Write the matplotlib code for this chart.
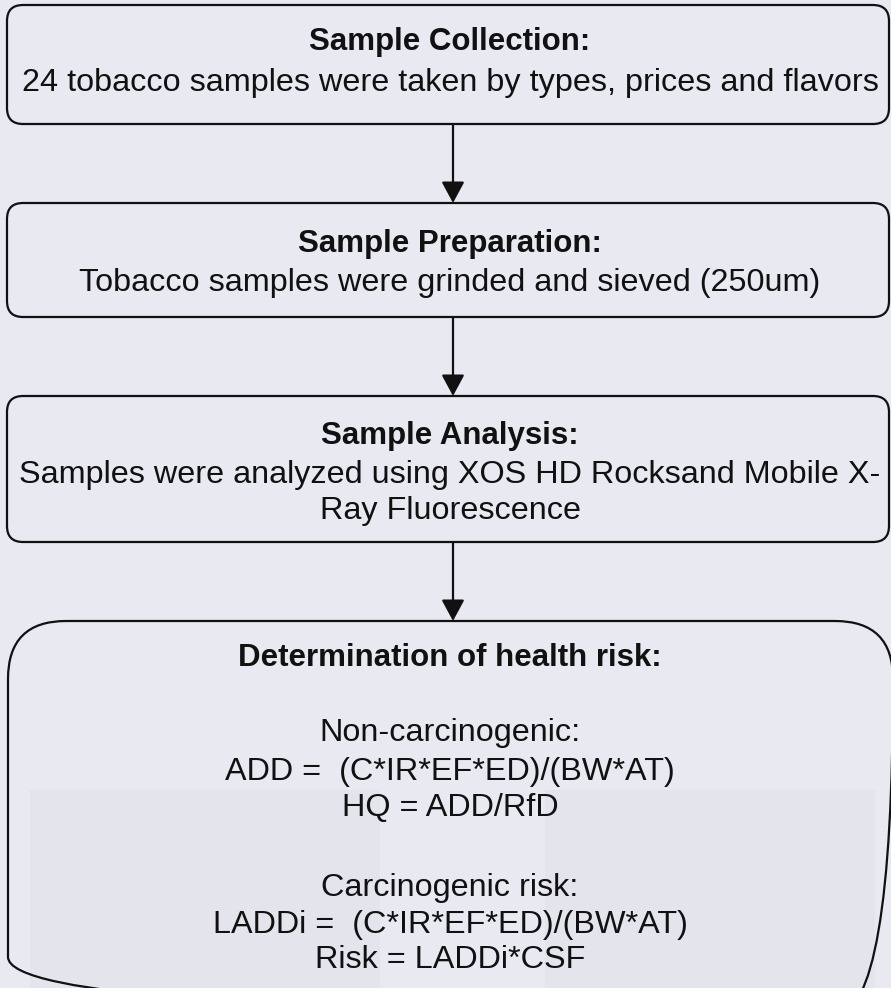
import matplotlib.pyplot as plt
from matplotlib.patches import FancyBboxPatch, FancyArrowPatch, Rectangle

# flowchart content
titles = ['Sample Collection:', 'Sample Preparation:', 'Sample Analysis:',
          'Determination of health risk:']
bodies = [
    ['24 tobacco samples were taken by types, prices and flavors'],
    ['Tobacco samples were grinded and sieved (250um)'],
    ['Samples were analyzed using XOS HD Rocksand Mobile X-', 'Ray Fluorescence'],
    ['Non-carcinogenic:', 'ADD =  (C*IR*EF*ED)/(BW*AT)', 'HQ = ADD/RfD', '',
     'Carcinogenic risk:', 'LADDi =  (C*IR*EF*ED)/(BW*AT)', 'Risk = LADDi*CSF'],
]

W, H = 891, 988
bg = '#E8E9F1'
font = ['Liberation Sans', 'DejaVu Sans']

fig = plt.figure(figsize=(W / 100, H / 100), dpi=100)
fig.patch.set_facecolor(bg)
ax = fig.add_axes([0, 0, 1, 1])
ax.set_xlim(0, W)
ax.set_ylim(H, 0)
ax.axis('off')

# faint scanned photo panels showing through at the bottom
ax.add_patch(Rectangle((30, 790), 350, 200, color='#E3E4EC', lw=0, zorder=0))
ax.add_patch(Rectangle((545, 790), 330, 200, color='#E3E4EC', lw=0, zorder=0))

# box geometry in pixels: left, top, right, bottom, corner radius
boxes = [(7, 5, 889, 124, 16), (7, 203, 889, 317, 16),
         (7, 396, 889, 542, 16), (8, 621, 893, 1015, 58)]
title_y = [42, 244, 436, 658]
body_y = [[83], [283], [475, 511], [733, 772, 808, 0, 888, 925, 960]]

for (x0, y0, x1, y1, r), title, lines, ys, ty in zip(boxes, titles, bodies, body_y, title_y):
    ax.add_patch(FancyBboxPatch((x0, y0), x1 - x0, y1 - y0,
                                boxstyle=f'round,pad=0,rounding_size={r}',
                                fc='none', ec='#111111', lw=1.6, zorder=2))
    ax.text(450, ty, title, fontsize=22.5, fontweight='bold', family=font,
            ha='center', va='center', color='#111111', zorder=3)
    for line, y in zip(lines, ys):
        if line:
            ax.text(450, y, line, fontsize=23.3, family=font, ha='center',
                    va='center', color='#111111', zorder=3)

# arrows between boxes
for i in range(3):
    ax.add_patch(FancyArrowPatch((453, boxes[i][3]), (453, boxes[i + 1][1]),
                                 arrowstyle='-|>,head_length=0.65,head_width=0.35',
                                 mutation_scale=20, color='#111111', lw=1.6,
                                 shrinkA=0, shrinkB=0, zorder=3))

fig.savefig('out.png', dpi=100, facecolor=bg)
